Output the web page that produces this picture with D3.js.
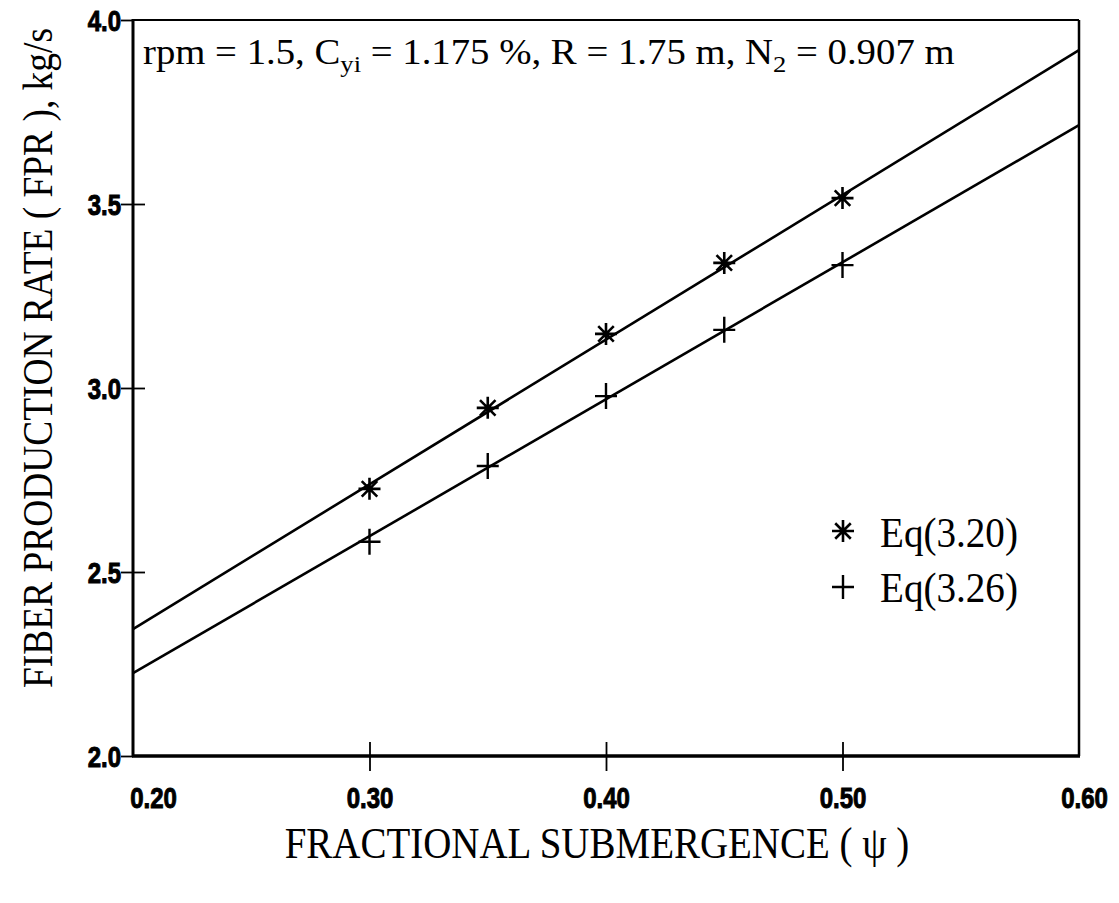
<!DOCTYPE html>
<html>
<head>
<meta charset="utf-8">
<script src="https://cdn.jsdelivr.net/npm/d3@7"></script>
<style>
  html, body { margin: 0; padding: 0; background: #fff; }
  svg { display: block; }
</style>
</head>
<body>
<svg id="chart" width="1119" height="903"></svg>
<script>
// Fractional submergence values where both equations were evaluated
const psi = [0.30, 0.35, 0.40, 0.45, 0.50];
// Fiber production rate, kg/s
const fprEq320 = [2.726, 2.946, 3.147, 3.340, 3.516];
const fprEq326 = [2.582, 2.788, 2.978, 3.158, 3.334];
// Straight-line fits drawn across the full psi range
const fitPsi = [0.20, 0.60];
const fitEq320 = [2.345, 3.918];
const fitEq326 = [2.225, 3.714];
// Axis ticks
const xTicks = [0.20, 0.30, 0.40, 0.50, 0.60];
const yTicks = [2.0, 2.5, 3.0, 3.5, 4.0];
const legendLabels = ["Eq(3.20)", "Eq(3.26)"];

const svg = d3.select("#chart");
const plotL = 133, plotR = 1079, plotT = 20, plotB = 756;

const x = d3.scaleLinear().domain([0.20, 0.60]).range([plotL, plotR]);
const y = d3.scaleLinear().domain([2.0, 4.0]).range([plotB, plotT]);

const serif = "'Liberation Serif', 'Times New Roman', serif";
const sans = "'Liberation Sans', Arial, sans-serif";

// squeeze a text element horizontally to a given width around its anchor
function fitWidth(sel, width, ax, ay) {
  const w = sel.node().getComputedTextLength();
  const k = width / w;
  sel.attr("transform", `translate(${ax},${ay}) scale(${k},1) translate(${-ax},${-ay})`);
}

// frame
svg.append("line").attr("x1", plotL).attr("x2", plotR).attr("y1", plotT).attr("y2", plotT)
  .attr("stroke", "#000").attr("stroke-width", 2.2);
svg.append("line").attr("x1", plotR).attr("x2", plotR).attr("y1", plotT).attr("y2", plotB)
  .attr("stroke", "#000").attr("stroke-width", 2.5);

const tickFont = 30, tickSqueeze = 0.8;

// x axis: ticks crossing the baseline
const xAxis = d3.axisBottom(x).tickValues(xTicks).tickFormat(d3.format(".2f"))
  .tickSizeInner(0).tickSizeOuter(0);
const gx = svg.append("g").attr("transform", `translate(0,${plotB})`).call(xAxis);
gx.select(".domain").remove();
gx.selectAll(".tick line").remove();
gx.selectAll(".tick").filter(d => d > 0.2 && d < 0.6).append("line")
  .attr("y1", -14).attr("y2", 15).attr("stroke", "#000").attr("stroke-width", 1.8);
gx.selectAll(".tick text")
  .attr("x", d => d === 0.20 ? 20 : (d === 0.60 ? 5 : 0))
  .attr("y", 52).attr("dy", 0)
  .attr("font-family", sans).attr("font-weight", "bold").attr("font-size", tickFont)
  .attr("fill", "#000").attr("stroke", "#000").attr("stroke-width", 1)
  .attr("transform", function () {
    const ax = +this.getAttribute("x");
    return `translate(${ax},0) scale(${tickSqueeze},1) translate(${-ax},0)`;
  });
svg.append("line").attr("x1", plotL - 1).attr("x2", plotR + 1).attr("y1", plotB).attr("y2", plotB)
  .attr("stroke", "#000").attr("stroke-width", 3.5);

// y axis
const yAxis = d3.axisLeft(y).tickValues(yTicks).tickFormat(d3.format(".1f"))
  .tickSizeInner(0).tickSizeOuter(0);
const gy = svg.append("g").attr("transform", `translate(${plotL},0)`).call(yAxis);
gy.select(".domain").remove();
gy.selectAll(".tick line").remove();
gy.selectAll(".tick").append("line")
  .attr("x1", -12).attr("x2", d => (d > 2.0 && d < 4.0) ? 12 : 0)
  .attr("stroke", "#000").attr("stroke-width", 1.8);
gy.selectAll(".tick text")
  .attr("x", -12).attr("dy", "0.36em")
  .attr("font-family", sans).attr("font-weight", "bold").attr("font-size", tickFont)
  .attr("fill", "#000").attr("stroke", "#000").attr("stroke-width", 1)
  .attr("transform", `translate(-12,0) scale(${tickSqueeze},1) translate(12,0)`);
svg.append("line").attr("x1", plotL).attr("x2", plotL).attr("y1", plotT - 1).attr("y2", plotB)
  .attr("stroke", "#000").attr("stroke-width", 3);

// fitted lines
const line = d3.line().x(d => x(d[0])).y(d => y(d[1]));
[fitEq320, fitEq326].forEach(vals => {
  svg.append("path").datum(fitPsi.map((p, i) => [p, vals[i]]))
    .attr("d", line).attr("fill", "none").attr("stroke", "#000").attr("stroke-width", 2.6);
});

// markers
function star(g, cx, cy, r) {
  const d = [];
  for (let i = 0; i < 4; i++) {
    const a = i * Math.PI / 4;
    d.push(`M${cx - r * Math.cos(a)},${cy - r * Math.sin(a)}L${cx + r * Math.cos(a)},${cy + r * Math.sin(a)}`);
  }
  g.append("path").attr("d", d.join("")).attr("stroke", "#000").attr("stroke-width", 2.6).attr("fill", "none");
}
function plus(g, cx, cy, rx, ry) {
  g.append("path").attr("d", `M${cx - rx},${cy}L${cx + rx},${cy}M${cx},${cy - ry}L${cx},${cy + ry}`)
    .attr("stroke", "#000").attr("stroke-width", 2.4).attr("fill", "none");
}
const marks = svg.append("g");
psi.forEach((p, i) => star(marks, x(p), y(fprEq320[i]), 11));
psi.forEach((p, i) => plus(marks, x(p), y(fprEq326[i]), 11, 13));

// legend
star(svg, 843, 531, 11);
plus(svg, 843, 587, 11, 12);
const lg1 = svg.append("text").attr("x", 880).attr("y", 547).attr("font-family", serif)
  .attr("font-size", 42).text(legendLabels[0]);
fitWidth(lg1, 138, 880, 547);
const lg2 = svg.append("text").attr("x", 880).attr("y", 602).attr("font-family", serif)
  .attr("font-size", 42).text(legendLabels[1]);
fitWidth(lg2, 138, 880, 602);

// condition annotation with subscripts
const ann = svg.append("text").attr("x", 143).attr("y", 64).attr("font-family", serif).attr("font-size", 35);
ann.append("tspan").text("rpm = 1.5, C");
ann.append("tspan").attr("dy", 8).attr("font-size", 24).text("yi");
ann.append("tspan").attr("dy", -8).text(" = 1.175 %, R = 1.75 m, N");
ann.append("tspan").attr("dy", 8).attr("font-size", 24).text("2");
ann.append("tspan").attr("dy", -8).text(" = 0.907 m");
fitWidth(ann, 812, 143, 64);

// axis titles
const xt = svg.append("text").attr("x", 597).attr("y", 858).attr("text-anchor", "middle")
  .attr("font-family", serif).attr("font-size", 45).text("FRACTIONAL SUBMERGENCE ( \u03c8 )");
fitWidth(xt, 625, 597, 858);
const yt = svg.append("text").attr("transform", "rotate(-90)")
  .attr("x", -358).attr("y", 52).attr("text-anchor", "middle")
  .attr("font-family", serif).attr("font-size", 42).text("FIBER PRODUCTION RATE ( FPR ), kg/s");
{
  const w = yt.node().getComputedTextLength();
  const k = 660 / w;
  yt.attr("transform", `rotate(-90) translate(-358,52) scale(${k},1) translate(358,-52)`);
}
</script>
</body>
</html>
